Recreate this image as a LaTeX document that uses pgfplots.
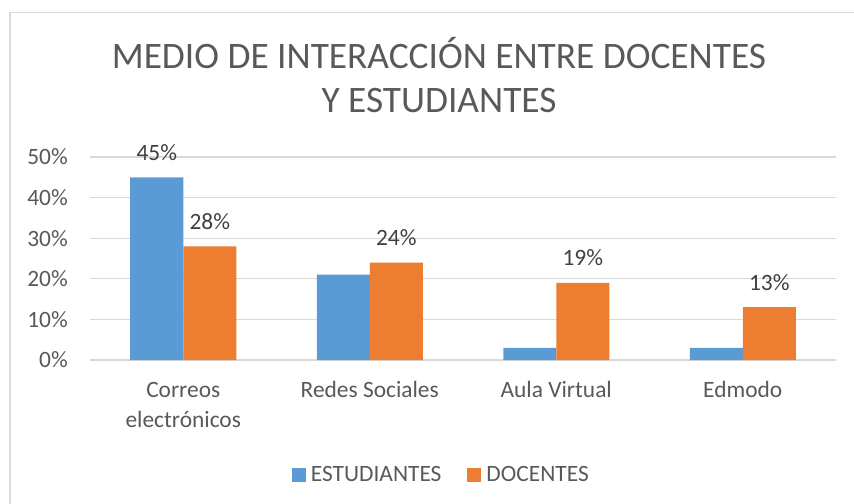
\documentclass[border=0pt]{standalone}
\usepackage{pgfplots}
\pgfplotsset{compat=1.18}
\usepackage{fontspec}
\setmainfont{Carlito}
\definecolor{cblue}{HTML}{5B9BD5}
\definecolor{corange}{HTML}{ED7D31}
\definecolor{ctext}{HTML}{595959}
\definecolor{clab}{HTML}{404040}
\definecolor{cgrid}{HTML}{D9D9D9}
\newcommand{\lblfont}{\fontsize{23.5}{29.5}\selectfont}
\begin{document}
\begin{tikzpicture}
\useasboundingbox (-90bp,-144bp) rectangle (764bp,360bp);
\draw[cgrid, line width=1.5bp] (-80bp,-160bp) -- (-80bp,347.5bp) -- (780bp,347.5bp);
\begin{axis}[
  at={(0,0)}, anchor=south west,
  scale only axis, width=746bp, height=203bp,
  xmin=-0.5, xmax=3.5, ymin=0, ymax=50,
  axis line style={draw=none},
  ybar=0pt, bar width=53bp,
  xtick={0,1,2,3},
  xticklabels={{Correos\\electrónicos},{Redes Sociales\\\mbox{}},{Aula Virtual\\\mbox{}},{Edmodo\\\mbox{}}},
  ytick={0,10,20,30,40,50},
  yticklabels={0\%,10\%,20\%,30\%,40\%,50\%},
  major tick length=0pt,
  ymajorgrids, grid style={cgrid, line width=1.2bp},
  yticklabel style={font=\lblfont, text=ctext, anchor=east, inner sep=0pt, xshift=-22bp},
  xticklabel style={font=\lblfont, text=ctext, align=center, anchor=base, inner sep=0pt, yshift=-67bp},
  nodes near coords, point meta=explicit symbolic,
  nodes near coords style={font=\lblfont, text=clab, anchor=base, yshift=17bp},
  legend columns=2,
  legend style={at={(0.471,-0.567)}, anchor=center, draw=none, fill=none,
    font=\lblfont, text=ctext,
    nodes={inner sep=2bp},
    /tikz/every odd column/.append style={column sep=3bp},
    /tikz/every even column/.append style={column sep=24bp}},
  legend image code/.code={\fill[#1,draw=none] (0bp,-7bp) rectangle (14bp,7bp);},
]
\addplot[fill=cblue, draw=none] coordinates {(0,45)[45\%] (1,21)[] (2,3)[] (3,3)[]};
\addplot[fill=corange, draw=none] coordinates {(0,28)[28\%] (1,24)[24\%] (2,19)[19\%] (3,13)[13\%]};
\legend{ESTUDIANTES, DOCENTES}
\end{axis}
\node[anchor=base, font=\fontsize{37.5}{45}\selectfont, text=ctext] at (349bp,291.7bp) {MEDIO DE INTERACCIÓN ENTRE DOCENTES};
\node[anchor=base, font=\fontsize{37.5}{45}\selectfont, text=ctext] at (349bp,247.2bp) {Y ESTUDIANTES};
\end{tikzpicture}
\end{document}
